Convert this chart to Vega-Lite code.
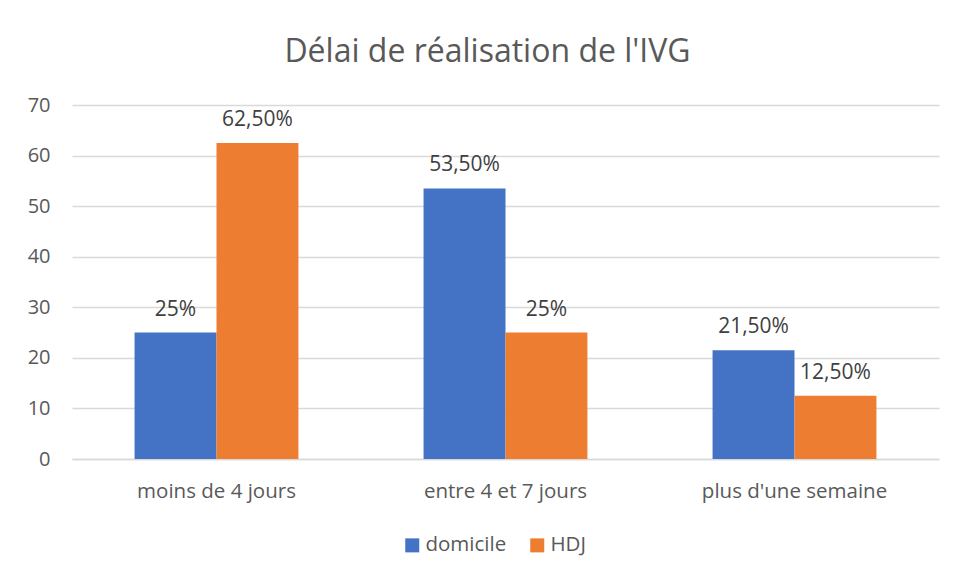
{
  "$schema": "https://vega.github.io/schema/vega-lite/v6.json",
  "width": 867,
  "height": 354,
  "autosize": {"type": "none"},
  "padding": {"left": 72, "top": 105, "right": 21, "bottom": 118},
  "background": "white",
  "title": {
    "text": "Délai de réalisation de l'IVG",
    "font": "Open Sans",
    "fontSize": 32,
    "fontWeight": "normal",
    "color": "#595959",
    "anchor": "middle",
    "frame": "group",
    "baseline": "alphabetic",
    "dx": -18,
    "offset": 1
  },
  "data": {
    "values": [
      {"categorie": "moins de 4 jours", "lieu": "domicile", "valeur": 25, "etiquette": "25%"},
      {"categorie": "moins de 4 jours", "lieu": "HDJ", "valeur": 62.5, "etiquette": "62,50%"},
      {"categorie": "entre 4 et 7 jours", "lieu": "domicile", "valeur": 53.5, "etiquette": "53,50%"},
      {"categorie": "entre 4 et 7 jours", "lieu": "HDJ", "valeur": 25, "etiquette": "25%"},
      {"categorie": "plus d'une semaine", "lieu": "domicile", "valeur": 21.5, "etiquette": "21,50%"},
      {"categorie": "plus d'une semaine", "lieu": "HDJ", "valeur": 12.5, "etiquette": "12,50%"}
    ]
  },
  "encoding": {
    "x": {
      "field": "categorie",
      "type": "nominal",
      "sort": null,
      "scale": {"paddingInner": 0.433, "paddingOuter": 0.2165},
      "axis": {
        "title": null,
        "labelAngle": 0,
        "labelFont": "Open Sans",
        "labelFontSize": 20.5,
        "labelColor": "#595959",
        "labelBaseline": "alphabetic",
        "labelPadding": 38,
        "labelLimit": 400,
        "ticks": false,
        "domainColor": "#D9D9D9",
        "domainWidth": 1.5,
        "grid": false
      }
    },
    "xOffset": {
      "field": "lieu",
      "type": "nominal",
      "sort": ["domicile", "HDJ"],
      "scale": {"paddingInner": 0, "paddingOuter": 0}
    },
    "y": {
      "field": "valeur",
      "type": "quantitative",
      "scale": {"domain": [0, 70], "nice": false},
      "axis": {
        "title": null,
        "values": [0, 10, 20, 30, 40, 50, 60, 70],
        "labelFont": "Open Sans",
        "labelFontSize": 20,
        "labelColor": "#595959",
        "labelPadding": 22,
        "ticks": false,
        "domain": false,
        "grid": true,
        "gridColor": "#D9D9D9",
        "gridWidth": 1.5
      }
    }
  },
  "layer": [
    {
      "mark": {"type": "bar"},
      "encoding": {
        "color": {
          "field": "lieu",
          "type": "nominal",
          "sort": ["domicile", "HDJ"],
          "scale": {"domain": ["domicile", "HDJ"], "range": ["#4472C4", "#ED7D31"]},
          "legend": {
            "title": null,
            "orient": "none",
            "direction": "horizontal",
            "legendX": 330,
            "legendY": 430,
            "padding": 0,
            "symbolType": "square",
            "symbolSize": 196,
            "symbolStrokeWidth": 0,
            "labelFont": "Open Sans",
            "labelFontSize": 20.5,
            "labelColor": "#595959",
            "labelOffset": 3,
            "columnPadding": 20
          }
        }
      }
    },
    {
      "mark": {
        "type": "text",
        "font": "Open Sans",
        "fontSize": 21,
        "color": "#404040",
        "baseline": "alphabetic",
        "dy": -17
      },
      "encoding": {
        "text": {"field": "etiquette"}
      }
    }
  ],
  "config": {
    "view": {"stroke": null}
  }
}
